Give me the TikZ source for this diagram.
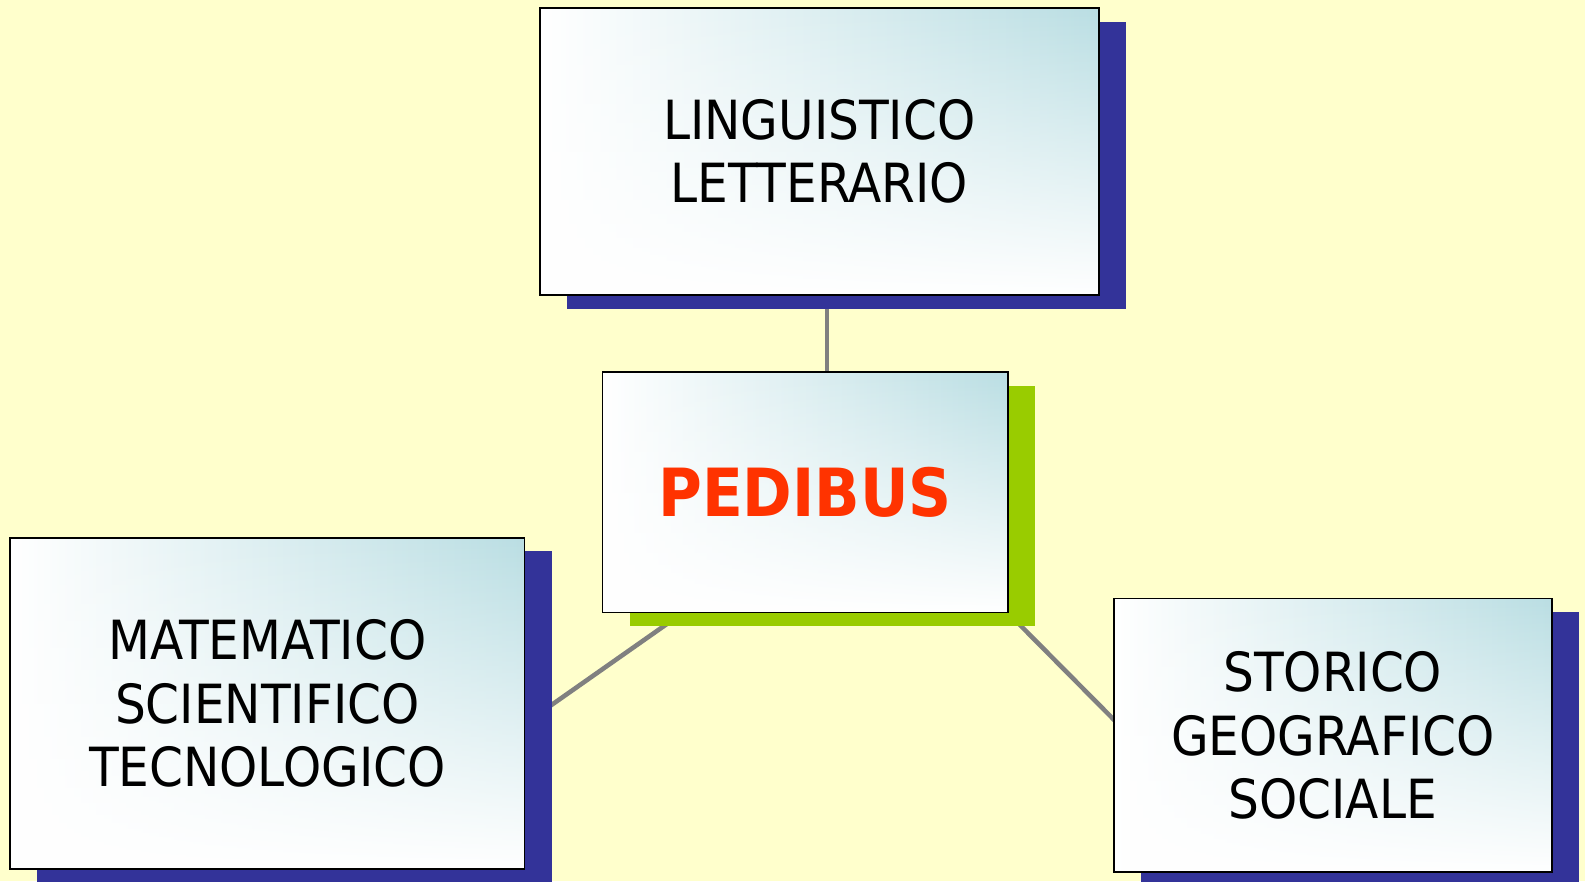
\documentclass[tikz,border=0pt]{standalone}
\usepackage{fontspec}
\setmainfont{DejaVu Sans Condensed}
\usetikzlibrary{shadows,fadings,calc,backgrounds}
\definecolor{bgyellow}{RGB}{255,255,204}
\definecolor{boxteal}{RGB}{186,222,227}
\definecolor{shadowblue}{RGB}{51,51,153}
\definecolor{shadowgreen}{RGB}{153,204,0}
\definecolor{titlered}{RGB}{255,51,0}
\definecolor{linkgray}{RGB}{128,128,128}
\begin{document}
\begin{tikzpicture}[x=0.02cm,y=-0.02cm,
  panel/.style={draw=black, line width=1pt, rectangle, inner sep=0pt, outer sep=0pt,
    align=center, left color=white, right color=boxteal,
    path picture={\fill[white,path fading=north] (path picture bounding box.south west) rectangle (path picture bounding box.north east);},
    font=\fontsize{30.4}{35.7}\selectfont},
  blueshadow/.style={general shadow={shadow xshift=0.54cm, shadow yshift=-0.27cm, fill=shadowblue}},
  greenshadow/.style={general shadow={shadow xshift=0.54cm, shadow yshift=-0.27cm, fill=shadowgreen}},
  link/.style={draw=linkgray, line width=0.09cm}
]
\useasboundingbox (0,0) rectangle (1568,872);
\node[panel, blueshadow, minimum width=11.06cm, minimum height=5.68cm] (t) at (810.5,150) {LINGUISTICO\\LETTERARIO};
\node[panel, greenshadow, minimum width=8.02cm, minimum height=4.76cm, font=\fontsize{37.4}{42}\selectfont\bfseries, text=titlered] (c) at (796.5,487) {PEDIBUS};
\node[panel, blueshadow, minimum width=10.18cm, minimum height=6.56cm] (l) at (264.5,696) {MATEMATICO\\SCIENTIFICO\\TECNOLOGICO};
\node[panel, blueshadow, minimum width=8.66cm, minimum height=5.42cm] (r) at (1318.5,727.5) {STORICO\\GEOGRAFICO\\SOCIALE};
\begin{scope}[on background layer]
  \fill[bgyellow] (0,0) rectangle (1568,872);
  \draw[link] ($(t)+(7.5,140)$) -- ($(c)+(21.5,-110)$);
  \draw[link] ($(c)+(-91.5,98.5)$) -- ($(l)+(253.3,20.9)$);
  \draw[link] ($(c)+(189.5,108)$) -- ($(r)+(-198.7,2.5)$);
\end{scope}
\end{tikzpicture}
\end{document}
